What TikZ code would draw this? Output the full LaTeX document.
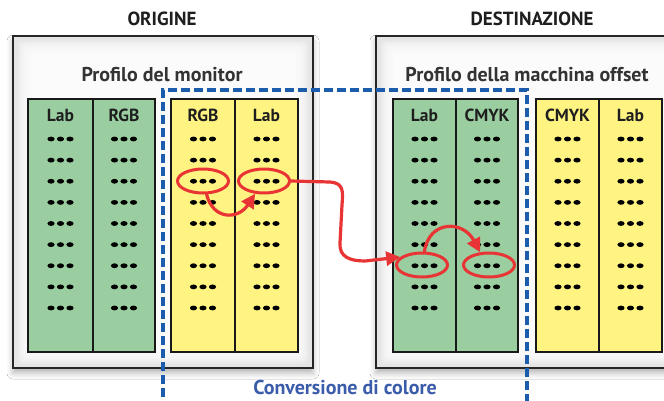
\documentclass[tikz,border=0pt]{standalone}
\usepackage{fontspec}
\setmainfont{PT Sans}
\usetikzlibrary{arrows.meta,shadows.blur,shapes.geometric}

\definecolor{colgreen}{RGB}{154,206,160}
\definecolor{colyellow}{RGB}{255,244,130}
\definecolor{convblue}{RGB}{28,92,172}
\definecolor{labelblue}{RGB}{58,92,170}
\definecolor{markred}{RGB}{232,52,52}
\definecolor{inktext}{RGB}{30,30,30}

\tikzset{
  outerpanel/.style={draw=black!85, line width=1.3pt, fill=black!10,
    blur shadow={shadow xshift=0pt, shadow yshift=-5pt, shadow blur radius=6pt, shadow opacity=30}},
  column/.style={draw=black!90, line width=1.1pt},
  titletext/.style={font=\bfseries\fontsize{19}{22}\selectfont, text=inktext, inner sep=0pt},
  profiletext/.style={font=\bfseries\fontsize{20}{24}\selectfont, text=black!80, inner sep=0pt},
  headtext/.style={font=\bfseries\fontsize{17.5}{20}\selectfont, text=inktext, inner sep=0pt},
  convtext/.style={font=\bfseries\fontsize{20}{24}\selectfont, text=labelblue, inner sep=0pt},
  markring/.style={ellipse, draw=markred, line width=3pt, minimum width=51pt, minimum height=24pt, inner sep=0pt},
  redarrow/.style={draw=markred, line width=3.2pt, line cap=round,
    -{Triangle[length=14pt,width=14pt]}},
  convbox/.style={draw=convblue, line width=3.6pt, dash pattern=on 9pt off 4pt},
}

\begin{document}
\begin{tikzpicture}[x=1pt,y=1pt]
\useasboundingbox (0,0) rectangle (664,-400);
\clip (0,0) rectangle (664,-400);
\fill[white] (0,0) rectangle (664,-400);

% outer panels with a soft white interior
\foreach \xa/\xb in {13/313, 376/700} {
  \path[outerpanel] (\xa,-36) rectangle (\xb,-368);
  \foreach \i in {1,...,10}
    \fill[white, opacity=0.22, rounded corners=5pt]
      ({\xa+3+1.5*\i},{-36-3-1.5*\i}) rectangle ({\xb-3-1.5*\i},{-368+3+1.5*\i});
}

% column groups
\foreach \xa/\xm/\xb/\cc in {28/93/155/colgreen, 171/235/298/colyellow,
                             393/456/518/colgreen, 536/599/662/colyellow} {
  \fill[\cc] (\xa,-99) rectangle (\xb,-352);
  \draw[column] (\xa,-99) rectangle (\xb,-352);
  \draw[column] (\xm,-99) -- (\xm,-352);
}

% titles
\node[titletext] (origtitle) at (162,-19) {ORIGINE};
\node[titletext] (desttitle) at (532,-19) {DESTINAZIONE};

% profile names
\node[profiletext] (monprof) at (162,-75) {Profilo del monitor};
\node[profiletext] (offprof) at (527,-75) {Profilo della macchina offset};

% column headers
\node[headtext] (h1) at (60.5,-115) {Lab};
\node[headtext] (h2) at (124,-115) {RGB};
\node[headtext] (h3) at (203,-115) {RGB};
\node[headtext] (h4) at (266.5,-115) {Lab};
\node[headtext] (h5) at (424.5,-115) {Lab};
\node[headtext] (h6) at (487,-115) {CMYK};
\node[headtext] (h7) at (567.5,-115) {CMYK};
\node[headtext] (h8) at (630.5,-115) {Lab};

% table entries drawn as three dots
\foreach \cx in {60.5,124,203,266.5,424.5,487,567.5,630.5}
  \foreach \r in {0,...,8}
    \foreach \d in {-9.5,0,9.5}
      \fill[black] ({\cx+\d},{-139-21.125*\r}) ellipse (3.6pt and 2.4pt);

% conversion region
\draw[convbox] (163,-410) -- (163,-90) -- (527,-90) -- (527,-410);
\node[convtext] (convlabel) at (345,-387) {Conversione di colore};

% highlighted entries
\node[markring] (rgbsrc) at (203,-181) {};
\node[markring] (labsrc) at (264,-181) {};
\node[markring] (labdst) at (422,-265) {};
\node[markring] (cmykdst) at (489,-265) {};

% conversion steps
\draw[redarrow] (rgbsrc.-75) .. controls (213,-220) and (238,-220) .. (labsrc.-125);
\draw[redarrow] (labsrc.east) -- (330,-182)
  .. controls (344,-183) and (343,-192) .. (342,-205) -- (340,-243)
  .. controls (339,-257) and (350,-261) .. (365,-261) -- (labdst.160);
\draw[redarrow] (labdst.80) .. controls (429,-220) and (463,-220) .. (cmykdst.125);

\end{tikzpicture}
\end{document}
